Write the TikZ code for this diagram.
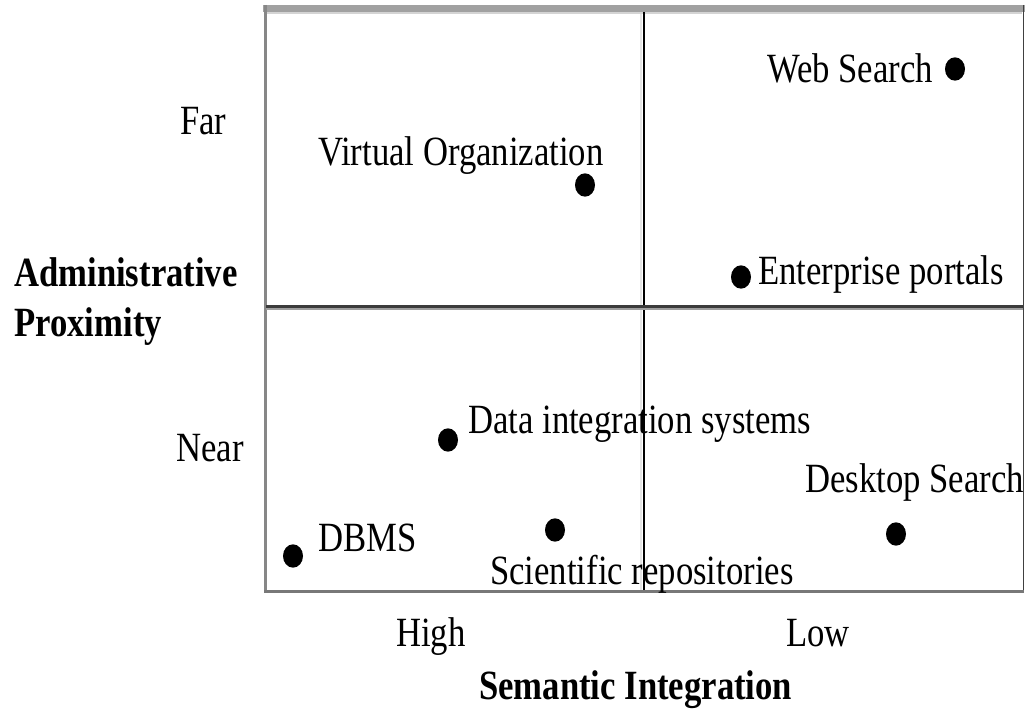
\documentclass[tikz,border=0pt]{standalone}
\usepackage{fontspec}
\usepackage{graphicx}
\setmainfont{Liberation Serif}
\usetikzlibrary{shapes.geometric}
\newcommand{\tallText}[1]{\scalebox{1}[1.2]{#1}}
\tikzset{
  lbl/.style={anchor=base west, inner sep=0pt, font=\fontsize{26}{30}\selectfont},
  axislbl/.style={lbl, font=\fontsize{26}{30}\selectfont\bfseries},
  dot/.style={ellipse, fill=black, draw=none, inner sep=0pt,
              minimum width=15pt, minimum height=17.5pt},
}
\begin{document}
\begin{tikzpicture}[x=0.75pt, y=-0.75pt]
\useasboundingbox (0,0) rectangle (1025,712);

% frame of the quadrant chart
\draw[line width=5pt, color=black!37] (263,8.5) -- (1024.5,8.5);
\draw[line width=1.5pt, color=black!17] (267,13.2) -- (1022,13.2);
\draw[line width=2.2pt, color=black!47] (265.5,5) -- (265.5,593);
\draw[line width=1.1pt, color=black!75] (1023.3,5) -- (1023.3,593);
\draw[line width=2.6pt, color=black!53] (264,591.3) -- (1024,591.3);

% quadrant dividers
\draw[line width=1.1pt, color=black!10] (641,14) -- (641,590);
\draw[line width=1.5pt, color=black] (643.5,12) -- (643.5,590);
\draw[line width=2.2pt, color=black!77] (266,306.5) -- (1023,306.5);
\draw[line width=1.3pt, color=black!38] (266,309) -- (1023,309);

% axis captions
\node[lbl] (far)  at (180,135) {\tallText{Far}};
\node[lbl] (near) at (176,462) {\tallText{Near}};
\node[axislbl] (adm)  at (14,287) {\tallText{Administrative}};
\node[axislbl] (prox) at (14,337) {\tallText{Proximity}};
\node[lbl] (high) at (396,647) {\tallText{High}};
\node[lbl] (low)  at (786,647) {\tallText{Low}};
\node[axislbl] (sem) at (479,700) {\tallText{Semantic Integration}};

% systems placed in the quadrants
\node[dot] (webdot) at (955,69) {};
\node[lbl] (web) at (767,83) {\tallText{Web Search}};

\node[dot] (vodot) at (585,185) {};
\node[lbl] (vo) at (318,166) {\tallText{Virtual Organization}};

\node[dot] (epdot) at (741,277) {};
\node[lbl] (ep) at (758,285) {\tallText{Enterprise portals}};

\node[dot] (didot) at (448,440) {};
\node[lbl] (di) at (468,434) {\tallText{Data integration systems}};

\node[dot] (dsdot) at (896,534) {};
\node[lbl] (ds) at (805,493) {\tallText{Desktop Search}};

\node[dot] (dbdot) at (293,556) {};
\node[lbl] (db) at (318,552) {\tallText{DBMS}};

\node[dot] (srdot) at (555,530) {};
\node[lbl] (sr) at (490,585) {\tallText{Scientific repositories}};
\end{tikzpicture}
\end{document}
